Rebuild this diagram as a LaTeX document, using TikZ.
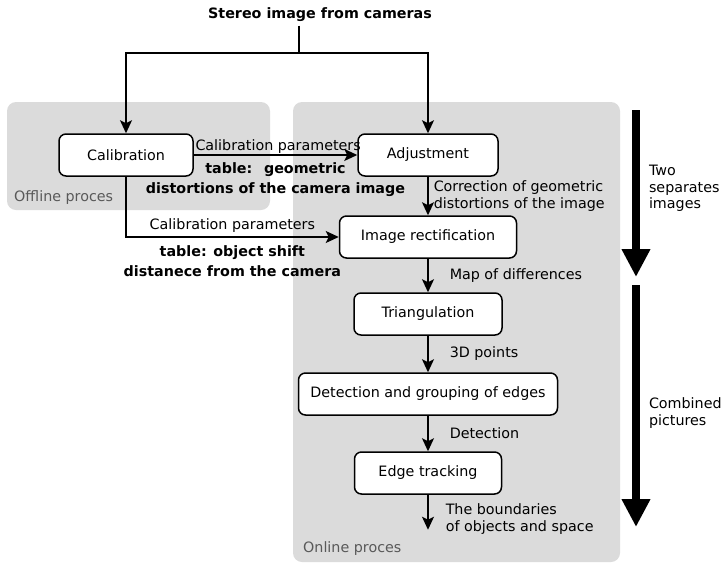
\documentclass[tikz,border=0pt]{standalone}
\usepackage{fontspec}
\setmainfont{DejaVu Sans}
\usetikzlibrary{arrows.meta,positioning}

\begin{document}
\begin{tikzpicture}[x=1pt,y=-1pt,font=\fontsize{14.3}{17.5}\selectfont,
	round/.style={rounded corners=7pt,minimum height=42pt,inner sep=2mm,draw,line width=1.5pt,fill=white},
	conn/.style={-{Stealth[length=13pt,width=12pt,inset=3pt]},line width=1.5pt},
	lbl/.style={align=left,inner sep=1pt},
	tbl/.style={font=\fontsize{14.3}{20}\selectfont\bfseries,align=center},
	zone/.style={fill=black!14,rounded corners=9pt},
	zonetxt/.style={text=black!65,anchor=base west,inner sep=0pt},
	bigarrow/.style={line width=8pt,-{Triangle[length=28pt,width=27pt]}}]

	\useasboundingbox (0,0) rectangle (723,563);

	% grey areas
	\fill[zone] (7,102) rectangle (270,210);
	\fill[zone] (293,102) rectangle (620,562);
	\node[zonetxt] (offline) at (14,201) {Offline proces};
	\node[zonetxt] (online) at (303,552) {Online proces};

	\node[font=\fontsize{14.3}{17.5}\selectfont\bfseries] (title) at (320,15) {Stereo image from cameras};
	\coordinate (split) at (299,53);

	\node[round, minimum width=134pt] (calib) at (126,155) {Calibration};
	\node[round, minimum width=140pt] (adjust) at (428,155) {Adjustment};
	\node[round, minimum width=177pt] (rect) [below of=adjust, node distance=82pt] {Image rectification};
	\node[round, minimum width=148pt] (tri) [below of=rect, node distance=77pt] {Triangulation};
	\node[round, minimum width=259pt] (detect) [below of=tri, node distance=80pt] {Detection and grouping of edges};
	\node[round, minimum width=147pt] (edge) [below of=detect, node distance=79pt] {Edge tracking};
	\coordinate[below=35pt of edge.south] (out);

	\draw[line width=1.5pt] (title.south -| split) -- (split);
	\draw[conn] (split) -| (calib);
	\draw[conn] (split) -| (adjust);

	\draw[conn] (calib) -- node[pos=0, above right, lbl] {Calibration parameters}
		node[midway, below, tbl, yshift=-4pt] {table:~ geometric\\distortions of the camera image} (adjust);
	\draw[conn] (calib.south) |- node[pos=0.75, above] {Calibration parameters}
		node[pos=0.75, below, tbl, yshift=-5pt] {table: object shift\\distanece from the camera} (rect);

	\draw[conn] (adjust) -- node[right, lbl, xshift=4pt] {Correction of geometric\\distortions of the image} (rect);
	\draw[conn] (rect) -- node[right, lbl, xshift=20pt] {Map of differences} (tri);
	\draw[conn] (tri) -- node[right, lbl, xshift=20pt] {3D points} (detect);
	\draw[conn] (detect) -- node[right, lbl, xshift=20pt] {Detection} (edge);
	\draw[conn] (edge) -- node[right, lbl, xshift=16pt, yshift=-7pt] {The boundaries\\of objects and space} (out);

	% two stages
	\coordinate (twotop) at (636,110);
	\coordinate (twoend) at (636,277);
	\coordinate (combtop) at (636,285);
	\coordinate (combend) at (636,527);
	\draw[bigarrow] (twotop) -- node[right, lbl, xshift=8pt, yshift=5pt, font=\fontsize{14.3}{16.5}\selectfont] {Two\\separates\\images} (twoend);
	\draw[bigarrow] (combtop) -- node[right, lbl, xshift=8pt, yshift=-7pt, font=\fontsize{14.3}{16.5}\selectfont] {Combined\\pictures} (combend);

\end{tikzpicture}
\end{document}
